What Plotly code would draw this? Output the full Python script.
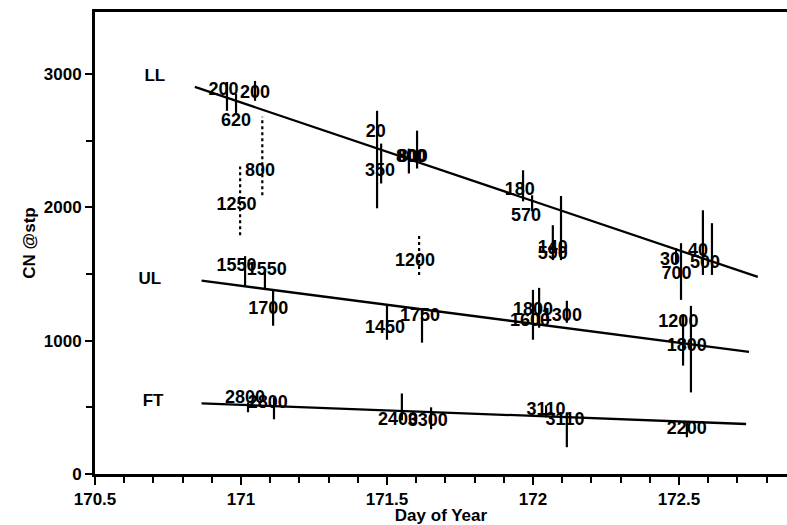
import plotly.graph_objects as go

# ---------------- data ----------------
# LL (solid error bars)
ll_x = [170.952, 170.983, 171.048, 171.466, 171.480, 171.603, 171.575, 171.966, 171.997,
        172.096, 172.068, 172.490, 172.507, 172.582, 172.613]
ll_lo = [2724, 2701, 2799, 1993, 2179, 2291, 2254, 2045, 1970, 1604, 1604, 1582, 1306, 1493, 1493]
ll_hi = [2940, 2851, 2948, 2724, 2478, 2575, 2440, 2278, 2090, 2085, 1866, 1694, 1731, 1978, 1881]
ll_lab_x = [170.940, 170.983, 171.048, 171.462, 171.476, 171.588, 171.582, 171.955, 171.976,
            172.068, 172.068, 172.469, 172.492, 172.565, 172.589]
ll_lab_y = [2873, 2642, 2851, 2560, 2271, 2373, 2373, 2129, 1933, 1694, 1649, 1604, 1493, 1672, 1582]
ll_text = ["200", "620", "200", "20", "350", "800", "800", "180", "570",
           "140", "590", "30", "700", "40", "500"]

# LL (dotted error bars)
lld_x = [171.073, 170.997]
lld_lo = [2090, 1791]
lld_hi = [2679, 2306]
lld_lab_x = [171.065, 170.985]
lld_lab_y = [2269, 2017]
lld_text = ["800", "1250"]

# UL (solid)
ul_x = [171.014, 171.082, 171.110, 171.500, 171.620, 172.000, 172.021, 172.116, 172.514, 172.541]
ul_lo = [1410, 1381, 1112, 1007, 985, 1007, 1097, 1134, 813, 612]
ul_hi = [1634, 1530, 1381, 1269, 1231, 1381, 1396, 1299, 1187, 1261]
ul_lab_x = [170.985, 171.088, 171.093, 171.493, 171.613, 172.000, 171.990, 172.099, 172.498, 172.527]
ul_lab_y = [1560, 1530, 1231, 1090, 1179, 1224, 1142, 1179, 1134, 955]
ul_text = ["1550", "1550", "1700", "1450", "1750", "1800", "1600", "1300", "1200", "1800"]

# UL (dotted)
uld_x = [171.610]
uld_lo = [1493]
uld_hi = [1799]
uld_lab_x = [171.596]
uld_lab_y = [1597]
uld_text = ["1200"]

# FT (solid)
ft_x = [171.024, 171.113, 171.551, 171.651, 172.045, 172.116, 172.527]
ft_lo = [463, 410, 403, 336, 425, 201, 276]
ft_hi = [537, 575, 604, 500, 515, 463, 388]
ft_lab_x = [171.014, 171.092, 171.538, 171.640, 172.045, 172.110, 172.527]
ft_lab_y = [567, 530, 403, 396, 478, 403, 336]
ft_text = ["2800", "2800", "2400", "3300", "3110", "3110", "2200"]

# regression lines (start/end)
fit_names = ["LL", "UL", "FT"]
fit_x0 = [170.842, 170.865, 170.865]
fit_y0 = [2903, 1450, 530]
fit_x1 = [172.77, 172.74, 172.73]
fit_y1 = [1478, 916, 375]

# group labels
grp_x = [170.705, 170.688, 170.699]
grp_y = [2978, 1455, 545]

FONT = "Liberation Sans, Arial, sans-serif"

fig = go.Figure()


def add_bars(xs, lo, hi, dash):
    bx, by = [], []
    for x, a, b in zip(xs, lo, hi):
        bx += [x, x, None]
        by += [a, b, None]
    fig.add_trace(go.Scatter(x=bx, y=by, mode="lines",
                             line=dict(color="black", width=2.2, dash=dash),
                             hoverinfo="skip", showlegend=False))


def add_labels(xs, ys, texts):
    fig.add_trace(go.Scatter(x=xs, y=ys, mode="text", text=texts,
                             textposition="middle center",
                             textfont=dict(family=FONT, size=18, color="black", weight="bold"),
                             hoverinfo="skip", showlegend=False))


# fits
for i in range(3):
    fig.add_trace(go.Scatter(x=[fit_x0[i], fit_x1[i]], y=[fit_y0[i], fit_y1[i]], mode="lines",
                             line=dict(color="black", width=2.3), hoverinfo="skip",
                             showlegend=False))

add_bars(ll_x, ll_lo, ll_hi, "solid")
add_bars(lld_x, lld_lo, lld_hi, "dot")
add_bars(ul_x, ul_lo, ul_hi, "solid")
add_bars(uld_x, uld_lo, uld_hi, "dot")
add_bars(ft_x, ft_lo, ft_hi, "solid")

add_labels(ll_lab_x, ll_lab_y, ll_text)
add_labels(lld_lab_x, lld_lab_y, lld_text)
add_labels(ul_lab_x, ul_lab_y, ul_text)
add_labels(uld_lab_x, uld_lab_y, uld_text)
add_labels(ft_lab_x, ft_lab_y, ft_text)

fig.add_trace(go.Scatter(x=grp_x, y=grp_y, mode="text", text=fit_names,
                         textfont=dict(family=FONT, size=17, color="black", weight="bold"),
                         hoverinfo="skip", showlegend=False))

axis_font = dict(family=FONT, size=17, color="black", weight="bold")

fig.update_layout(
    width=787, height=525,
    margin=dict(l=95, r=0, t=12, b=48),
    paper_bgcolor="white", plot_bgcolor="white",
    showlegend=False,
    xaxis=dict(range=[170.5, 172.87], tickmode="array",
               tickvals=[170.5, 171, 171.5, 172, 172.5],
               ticktext=["170.5", "171", "171.5", "172", "172.5"],
               ticks="outside", ticklen=8, tickwidth=2, tickcolor="black",
               minor=dict(dtick=0.1, tick0=170.5, ticks="outside", ticklen=6,
                          tickwidth=2, tickcolor="black", showgrid=False),
               showline=True, linecolor="black", linewidth=3, mirror=True,
               showgrid=False, zeroline=False, tickfont=axis_font,
               title=dict(text="Day of Year", font=axis_font, standoff=4)),
    yaxis=dict(range=[0, 3465], tickmode="array",
               tickvals=[0, 1000, 2000, 3000],
               ticks="outside", ticklen=7, tickwidth=2, tickcolor="black",
               minor=dict(dtick=500, tick0=0, ticks="outside", ticklen=6,
                          tickwidth=2, tickcolor="black", showgrid=False),
               showline=True, linecolor="black", linewidth=3,
               showgrid=False, zeroline=False, tickfont=axis_font,
               title=dict(text="CN @stp", font=axis_font, standoff=4)),
)

fig.write_html("out.html")
